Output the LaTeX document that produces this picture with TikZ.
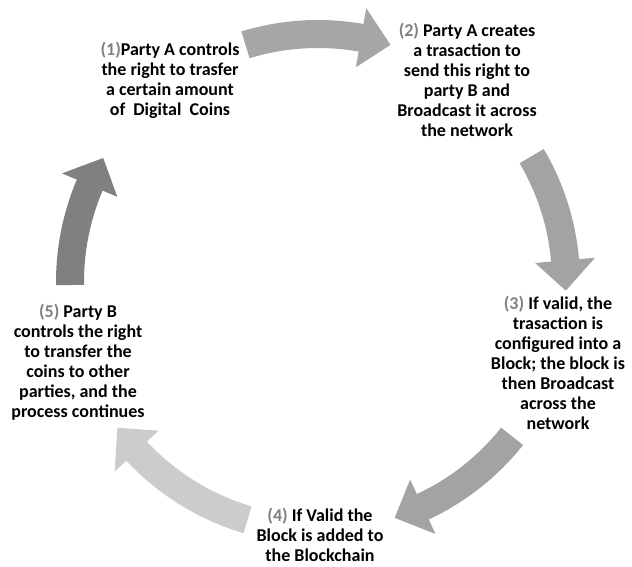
\documentclass[tikz,border=0pt]{standalone}
\usepackage{fontspec}
\setmainfont{Carlito}
\begin{document}
\begin{tikzpicture}[x=1pt,y=1pt,
  steptext/.style={align=center,font=\fontsize{18}{20}\selectfont\bfseries,inner sep=0pt}]
\definecolor{numgray}{gray}{0.5}
\definecolor{arrowA}{gray}{0.65}
\definecolor{arrowB}{gray}{0.64}
\definecolor{arrowC}{gray}{0.64}
\definecolor{arrowD}{gray}{0.80}
\definecolor{arrowE}{gray}{0.50}
\useasboundingbox (0,0) rectangle (632,566);
\fill[white] (0,0) rectangle (632,566);

% curved block arrow along the cycle circle:
% #1 tail angle, #2 head-base angle, #3 tip angle, #4 colour
\newcommand{\cyclearrow}[4]{%
  \fill[#4] (#1:262) arc[start angle=#1, end angle=#2, radius=262]
    -- (#2:278) -- (#3:248) -- (#2:218) -- (#2:234)
    arc[start angle=#2, end angle=#1, radius=234] -- cycle;}

\begin{scope}[shift={(318,284)}]
  \cyclearrow{107}{80}{73}{arrowA}
  \cyclearrow{30.5}{5}{-2}{arrowB}
  \cyclearrow{-38.5}{-65}{-72}{arrowC}
  \cyclearrow{-106.5}{-137}{-144}{arrowD}
  \cyclearrow{180.7}{157}{150}{arrowE}
\end{scope}

\node[steptext] (s1) at (170,486) {{\color{numgray}(1)}Party A controls\\the right to trasfer\\a certain amount\\of\ \ Digital\ \ Coins};
\node[steptext] (s2) at (467,486) {{\color{numgray}(2)} Party A creates\\a trasaction to\\send this right to\\party B and\\Broadcast it across\\the network};
\node[steptext] (s3) at (558,203) {{\color{numgray}(3)} If valid, the\\trasaction is\\configured into a\\Block; the block is\\then Broadcast\\across the\\network};
\node[steptext] (s4) at (320,31) {{\color{numgray}(4)} If Valid the\\Block is added to\\the Blockchain};
\node[steptext] (s5) at (78,204) {{\color{numgray}(5)} Party B\\controls the right\\to transfer the\\coins to other\\parties, and the\\process continues};
\end{tikzpicture}
\end{document}
